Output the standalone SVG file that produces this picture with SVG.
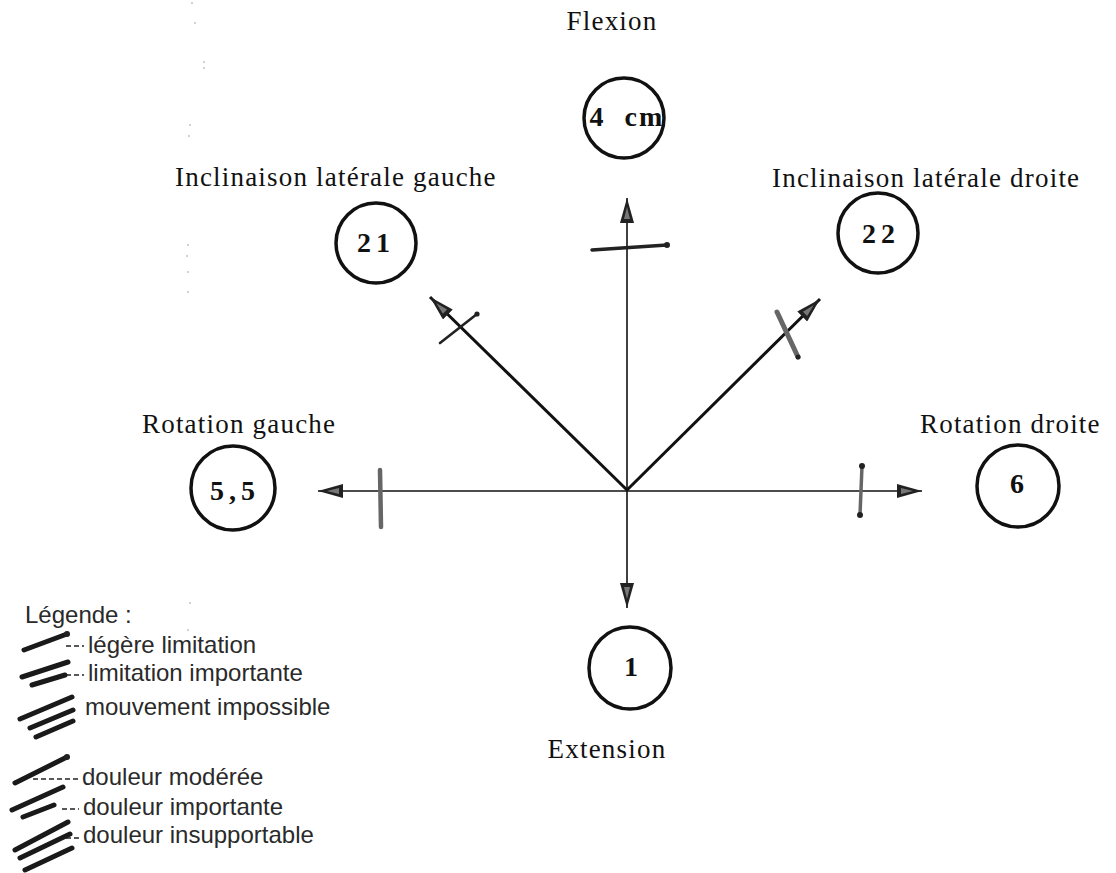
<svg xmlns="http://www.w3.org/2000/svg" width="1116" height="873" viewBox="0 0 1116 873">
<style>
.lbl{font-family:"Liberation Serif","Times New Roman",serif;font-size:27px;letter-spacing:1.2px;fill:#111}
.num{font-family:"Liberation Serif","Times New Roman",serif;font-size:28px;font-weight:bold;fill:#111;text-anchor:middle}
.ring{fill:none;stroke:#111;stroke-width:3.5}
.axis-thin{stroke:#111;stroke-width:1.6;fill:none}
.axis-thick{stroke:#111;stroke-width:3;fill:none}
.tick{stroke:#222;stroke-linecap:round;fill:none}
.tick-gray{stroke:#666;stroke-linecap:round;fill:none}
.knob{fill:#222}
.leg{font-family:"Liberation Sans",Arial,sans-serif;font-size:24px;fill:#2a2a2a}
.stroke{stroke:#1a1a1a;stroke-width:5;stroke-linecap:round;fill:none}
.dash{stroke:#222;stroke-width:1.4;stroke-dasharray:5 3;fill:none}
.speck{fill:#999}
</style>
<defs>
<marker id="arr" markerUnits="userSpaceOnUse" markerWidth="26" markerHeight="14" refX="25" refY="7" orient="auto">
<path d="M0,0 L25,7 L0,14 Z" fill="#222"/>
<path d="M4,4 L16,7 L4,10 Z" fill="#777"/>
</marker>
</defs>
<rect width="1116" height="873" fill="#fff"/>

<g id="connectors">
<line class="axis-thin" x1="627" y1="490" x2="627" y2="198" marker-end="url(#arr)"/>
<line class="axis-thin" x1="627" y1="490" x2="627" y2="608" marker-end="url(#arr)"/>
<line class="axis-thin" x1="627" y1="491" x2="318" y2="491" marker-end="url(#arr)"/>
<line class="axis-thin" x1="627" y1="491" x2="922" y2="491" marker-end="url(#arr)"/>
<line class="axis-thick" x1="627" y1="490" x2="430" y2="297" marker-end="url(#arr)"/>
<line class="axis-thick" x1="627" y1="490" x2="820" y2="299" marker-end="url(#arr)"/>
</g>

<g id="marks">
<line class="tick" stroke-width="3.5" x1="592" y1="250" x2="667" y2="245"/>
<circle class="knob" cx="667" cy="245" r="3"/>
<line class="tick" stroke-width="2.6" x1="440" y1="343" x2="477" y2="314"/>
<circle class="knob" cx="477" cy="314" r="2.6"/>
<line class="tick-gray" stroke-width="5" x1="777" y1="312" x2="798" y2="357"/>
<circle class="knob" cx="798" cy="357" r="2.5"/>
<line class="tick-gray" stroke-width="4.5" x1="380" y1="470" x2="381" y2="527"/>
<line class="tick-gray" stroke-width="3.5" x1="862" y1="466" x2="860" y2="515"/>
<circle class="knob" cx="862" cy="466" r="3"/>
<circle class="knob" cx="860" cy="515" r="3"/>
</g>

<g id="flexion">
<text class="lbl" x="612" y="30" text-anchor="middle">Flexion</text>
<circle class="ring" cx="624" cy="118" r="40"/>
<text class="num" x="627" y="126" font-size="26" letter-spacing="2" word-spacing="10">4 cm</text>
</g>

<g id="inclinaison-gauche">
<text class="lbl" x="175" y="186">Inclinaison latérale gauche</text>
<circle class="ring" cx="376" cy="243" r="40"/>
<text class="num" x="376" y="252" letter-spacing="5">21</text>
</g>

<g id="inclinaison-droite">
<text class="lbl" x="772" y="187">Inclinaison latérale droite</text>
<circle class="ring" cx="878" cy="233" r="40"/>
<text class="num" x="881" y="243" letter-spacing="5">22</text>
</g>

<g id="rotation-gauche">
<text class="lbl" x="142" y="433">Rotation gauche</text>
<circle class="ring" cx="233" cy="488" r="42"/>
<text class="num" x="235" y="500" letter-spacing="5">5,5</text>
</g>

<g id="rotation-droite">
<text class="lbl" x="920" y="433">Rotation droite</text>
<circle class="ring" cx="1018" cy="486" r="41"/>
<text class="num" x="1017" y="493">6</text>
</g>

<g id="extension">
<circle class="ring" cx="630" cy="668" r="41"/>
<text class="num" x="631" y="676">1</text>
<text class="lbl" x="607" y="758" text-anchor="middle">Extension</text>
</g>

<g id="legend">
<text class="leg" x="25" y="623">Légende :</text>
<line class="dash" x1="66" y1="646" x2="84" y2="646"/>
<line class="stroke" x1="24" y1="650" x2="67" y2="634"/>
<circle class="knob" cx="67" cy="634" r="3"/>
<text class="leg" x="88" y="653">légère limitation</text>

<line class="dash" x1="66" y1="675" x2="84" y2="675"/>
<line class="stroke" x1="22" y1="677" x2="68" y2="662"/>
<line class="stroke" x1="32" y1="685" x2="65" y2="675"/>
<text class="leg" x="88" y="681">limitation importante</text>

<line class="stroke" x1="20" y1="719" x2="72" y2="697"/>
<line class="stroke" x1="30" y1="728" x2="73" y2="710"/>
<line class="stroke" x1="36" y1="737" x2="73" y2="721"/>
<text class="leg" x="85" y="715">mouvement impossible</text>

<line class="dash" x1="33" y1="779" x2="79" y2="779"/>
<line class="stroke" x1="15" y1="783" x2="67" y2="757"/>
<circle class="knob" cx="67" cy="757" r="3"/>
<text class="leg" x="82" y="785">douleur modérée</text>

<line class="dash" x1="62" y1="809" x2="79" y2="809"/>
<line class="stroke" x1="12" y1="810" x2="63" y2="787"/>
<line class="stroke" x1="23" y1="817" x2="54" y2="805"/>
<text class="leg" x="83" y="815">douleur importante</text>

<line class="dash" x1="66" y1="838" x2="79" y2="838"/>
<line class="stroke" x1="15" y1="850" x2="68" y2="822"/>
<line class="stroke" x1="20" y1="858" x2="70" y2="834"/>
<line class="stroke" x1="25" y1="870" x2="72" y2="848"/>
<text class="leg" x="83" y="843">douleur insupportable</text>
</g>

<g id="specks">
<circle class="speck" cx="192" cy="3" r="0.8"/>
<circle class="speck" cx="195" cy="23" r="0.8"/>
<circle class="speck" cx="204" cy="62" r="0.8"/>
<circle class="speck" cx="204" cy="68" r="0.8"/>
<circle class="speck" cx="190" cy="125" r="0.8"/>
<circle class="speck" cx="189" cy="136" r="0.8"/>
<circle class="speck" cx="188" cy="245" r="0.8"/>
<circle class="speck" cx="187" cy="256" r="0.8"/>
<circle class="speck" cx="188" cy="272" r="0.8"/>
<circle class="speck" cx="188" cy="292" r="0.8"/>
<circle class="speck" cx="190" cy="603" r="0.8"/>
<circle class="speck" cx="188" cy="630" r="0.8"/>
</g>
</svg>
